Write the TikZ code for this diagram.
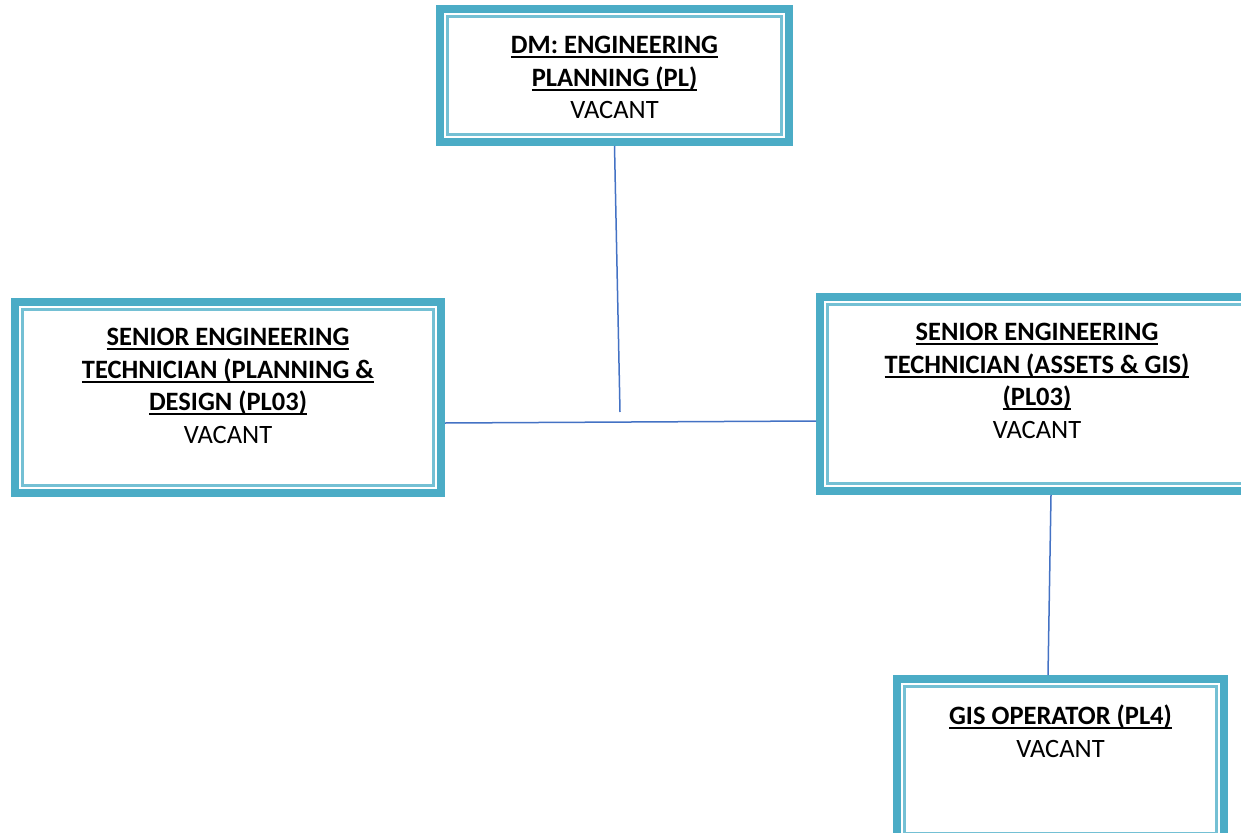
\documentclass[tikz,border=0pt]{standalone}
\usepackage{fontspec}
\setmainfont{Carlito}
\usepackage{tikz}
\usetikzlibrary{positioning}

\definecolor{boxteal}{HTML}{4BACC6}
\definecolor{innerteal}{HTML}{74C0D4}
\definecolor{linkblue}{HTML}{4472C4}

% underline a bold title line, Word style
\newcommand{\undl}[1]{\setbox0\hbox{\textbf{#1}}\rlap{\rule[-4.5pt]{\wd0}{2pt}}\box0}

\begin{document}
\begin{tikzpicture}[x=1pt,y=-1pt,
        post/.style={draw=boxteal,line width=8pt,outer sep=4pt,inner sep=0pt,fill=white},
        title/.style={anchor=north,align=center,inner sep=0pt,
                      font=\fontsize{26.5}{32.5}\selectfont},
        link/.style={draw=linkblue,line width=1.5pt}]

        \useasboundingbox (0,0) rectangle (1241,832);

        \node[post,minimum width=349pt,minimum height=133pt] (dm)  at (614.5,75.5) {};
        \node[post,minimum width=426pt,minimum height=191pt] (sep) at (228,397.5)  {};
        \node[post,minimum width=434pt,minimum height=194pt] (sea) at (1037,394)   {};
        \node[post,minimum width=327pt,minimum height=162pt] (gis) at (1060.5,760) {};

        \foreach \n in {dm,sep,sea,gis}
            \draw[innerteal,line width=2.2pt] ([shift={(11.5,11.5)}]\n.north west)
                rectangle ([shift={(-11.5,-11.5)}]\n.south east);

        \node[title] (dmtext)  at ([yshift=-26pt]dm.north)
            {\strut\undl{DM: ENGINEERING}\\\undl{PLANNING (PL)}\\VACANT};
        \node[title] (septext) at ([yshift=-25pt]sep.north)
            {\strut\undl{SENIOR ENGINEERING}\\\undl{TECHNICIAN (PLANNING \&}\\\undl{DESIGN (PL03)}\\VACANT};
        \node[title] (seatext) at ([yshift=-25pt]sea.north)
            {\strut\undl{SENIOR ENGINEERING}\\\undl{TECHNICIAN (ASSETS \& GIS)}\\\undl{(PL03)}\\VACANT};
        \node[title] (gistext) at ([yshift=-27pt]gis.north)
            {\strut\undl{GIS OPERATOR (PL4)}\\VACANT};

        \coordinate (tee) at (620,412);

        \path[link] (dm.south) -- (tee);
        \path[link] ([yshift=-25.5pt]sep.east) -- ([yshift=-27pt]sea.west);
        \path[link] ([xshift=14pt]sea.south) -- ([xshift=-12.5pt]gis.north);

\end{tikzpicture}
\end{document}
